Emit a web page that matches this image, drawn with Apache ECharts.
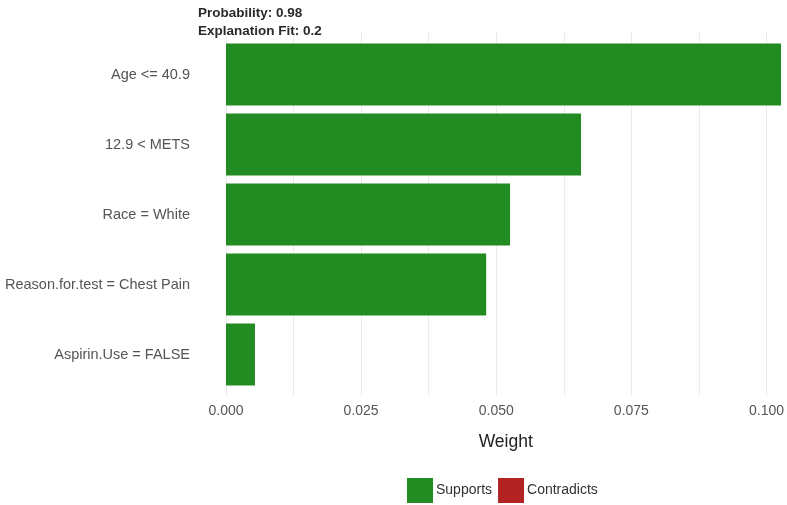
<!DOCTYPE html>
<html>
<head>
<meta charset="utf-8">
<script src="https://cdn.jsdelivr.net/npm/echarts@6/dist/echarts.min.js"></script>
<style>html,body{margin:0;padding:0;background:#fff;}#c{width:787px;height:505px;}</style>
</head>
<body>
<div id="c"></div>
<script>
var categories = ['Age <= 40.9', '12.9 < METS', 'Race = White', 'Reason.for.test = Chest Pain', 'Aspirin.Use = FALSE'];
var weights = [0.1024, 0.0655, 0.0524, 0.0480, 0.00535];
var contradicts = [];
var titleLines = ['Probability: 0.98', 'Explanation Fit: 0.2'];
var legendNames = ['Supports', 'Contradicts'];
var xMin = 0, xMax = 0.1035, xStep = 0.0125, labelStep = 0.025;

var FONT = '"Liberation Sans", Arial, sans-serif';
var chart = echarts.init(document.getElementById('c'), null, {renderer: 'canvas'});
chart.setOption({
  animation: false,
  backgroundColor: '#ffffff',
  textStyle: {fontFamily: FONT},
  title: {
    text: titleLines.join('\n'),
    left: 193, top: -1,
    textStyle: {fontFamily: FONT, fontSize: 13.5, fontWeight: 'bold', color: '#2a2a2a', lineHeight: 18}
  },
  legend: {
    data: legendNames,
    left: 402, top: 473,
    itemWidth: 26, itemHeight: 25, itemGap: 6,
    icon: 'rect',
    textStyle: {fontFamily: FONT, fontSize: 14, color: '#333', padding: [0, 0, 0, -2]}
  },
  grid: [
    {left: 226, top: 32, width: 561, height: 364},
    {left: 226, top: 39.5, width: 561, height: 350}
  ],
  xAxis: [
    {
      gridIndex: 0, type: 'value', min: xMin, max: xMax, interval: xStep,
      axisLine: {show: false}, axisTick: {show: false},
      splitLine: {show: true, showMaxLine: false, lineStyle: {color: '#ebebeb', width: 1}},
      axisLabel: {
        color: '#555', fontSize: 14, margin: 8, fontFamily: FONT,
        showMaxLabel: false,
        formatter: function (v) {
          var r = v / labelStep;
          return Math.abs(r - Math.round(r)) < 1e-6 ? v.toFixed(3) : '';
        }
      },
      name: 'Weight', nameLocation: 'middle', nameGap: 37,
      nameTextStyle: {fontSize: 17.5, color: '#222', fontFamily: FONT}
    },
    {
      gridIndex: 1, type: 'value', min: xMin, max: xMax,
      axisLine: {show: false}, axisTick: {show: false},
      splitLine: {show: false}, axisLabel: {show: false}
    }
  ],
  yAxis: [
    {
      gridIndex: 0, type: 'value', min: 0, max: 1,
      axisLine: {show: false}, axisTick: {show: false},
      splitLine: {show: false}, axisLabel: {show: false}
    },
    {
      gridIndex: 1, type: 'category', data: categories, inverse: true,
      axisLine: {show: false}, axisTick: {show: false},
      splitLine: {show: false},
      axisLabel: {color: '#555', fontSize: 14.5, margin: 36, fontFamily: FONT}
    }
  ],
  series: [
    {
      name: legendNames[0], type: 'bar', xAxisIndex: 1, yAxisIndex: 1,
      data: weights, barWidth: 62,
      itemStyle: {color: '#228B22'}
    },
    {
      name: legendNames[1], type: 'bar', xAxisIndex: 1, yAxisIndex: 1,
      data: contradicts, barWidth: 62, barGap: '-100%',
      itemStyle: {color: '#B22222'}
    }
  ]
});
</script>
</body>
</html>
